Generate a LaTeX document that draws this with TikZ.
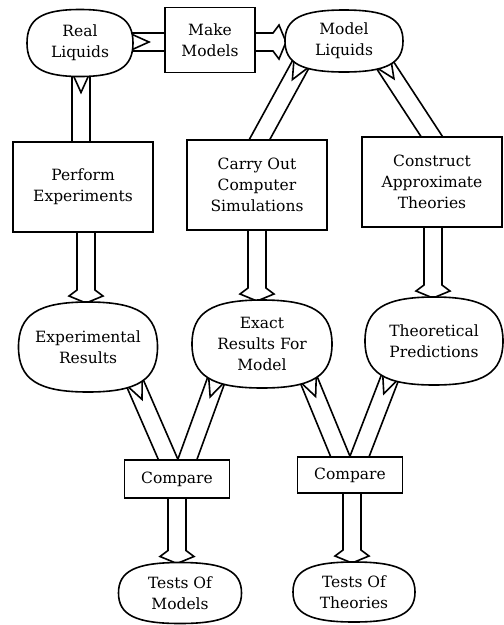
\documentclass[tikz,border=0pt]{standalone}
\usepackage{fontspec}
\setmainfont{DejaVu Serif}
\usetikzlibrary{calc}
\pgfdeclarelayer{bg}
\pgfdeclarelayer{mid}
\pgfsetlayers{bg,mid,main}
\newcommand\blockarrow[4]{%
  \coordinate (bA) at #1;
  \coordinate (bB) at #2;
  \coordinate (a1) at ($(bA)!9pt!90:(bB)$);
  \coordinate (a2) at ($(bA)!9pt!-90:(bB)$);
  \ifnum#4=1
    \coordinate (hs) at ($(bB)!13pt!(bA)$);
    \coordinate (hb) at ($(bB)!7pt!(bA)$);
    \coordinate (e1) at ($(hs)!9pt!-90:(bA)$);
    \coordinate (e2) at ($(hs)!9pt!90:(bA)$);
    \coordinate (h1) at ($(hb)!17pt!-90:(bA)$);
    \coordinate (h2) at ($(hb)!17pt!90:(bA)$);
    \draw[barrow] (a1) -- (e1) -- (h1) -- (bB) -- (h2) -- (e2) -- (a2);
  \else
    \coordinate (e1) at ($(bB)!9pt!-90:(bA)$);
    \coordinate (e2) at ($(bB)!9pt!90:(bA)$);
    \draw[barrow] (a1) -- (e1);
    \draw[barrow] (a2) -- (e2);
  \fi
  \ifnum#3=1
    \coordinate (nn) at ($(bA)!20pt!(bB)$);
    \draw[barrow] (a1) -- (nn) -- (a2);
  \fi
}
\newcommand\squircle[1]{%
  \filldraw[sq] (#1.north)
    .. controls ($(#1.north)!0.72!(#1.north east)$) and ($(#1.east)!0.72!(#1.north east)$) .. (#1.east)
    .. controls ($(#1.east)!0.72!(#1.south east)$) and ($(#1.south)!0.72!(#1.south east)$) .. (#1.south)
    .. controls ($(#1.south)!0.72!(#1.south west)$) and ($(#1.west)!0.72!(#1.south west)$) .. (#1.west)
    .. controls ($(#1.west)!0.72!(#1.north west)$) and ($(#1.north)!0.72!(#1.north west)$) .. (#1.north)
    -- cycle;}
\begin{document}
\begin{tikzpicture}[x=1pt,y=-1pt,
  txt/.style={font=\fontsize{15.5}{21}\selectfont, align=center, inner sep=0pt, outer sep=0pt},
  oval/.style={txt},
  boxn/.style={txt, draw, fill=white, line width=1.6pt},
  sq/.style={draw, fill=white, line width=1.6pt},
  barrow/.style={line width=1.6pt, line join=miter}]
\useasboundingbox (0,0) rectangle (504,625);

% ovals
\node[oval, minimum width=106pt, minimum height=67pt] (rl) at (80,43) {Real\\Liquids};
\node[oval, minimum width=118pt, minimum height=62pt] (ml) at (344,41) {Model\\Liquids};
\node[oval, minimum width=139pt, minimum height=90pt] (er) at (88,347) {Experimental\\Results};
\node[oval, minimum width=140pt, minimum height=88pt] (ex) at (262,344) {Exact\\Results For\\Model};
\node[oval, minimum width=138pt, minimum height=88pt] (tp) at (434,341) {Theoretical\\Predictions};
\node[oval, minimum width=123pt, minimum height=61pt] (tm) at (180,593) {Tests Of\\Models};
\node[oval, minimum width=122pt, minimum height=60pt] (tt) at (354,592) {Tests Of\\Theories};

% boxes
\node[boxn, minimum width=90pt, minimum height=65pt] (mm) at (210,40) {Make\\Models};
\node[boxn, minimum width=140pt, minimum height=90pt] (pe) at (83,187) {Perform\\Experiments};
\node[boxn, minimum width=140pt, minimum height=90pt] (cs) at (257,185) {Carry Out\\Computer\\Simulations};
\node[boxn, minimum width=140pt, minimum height=90pt] (ca) at (432,182) {Construct\\Approximate\\Theories};
\node[boxn, minimum width=105pt, minimum height=38pt] (c1) at (177,479) {Compare};
\node[boxn, minimum width=105pt, minimum height=36pt] (c2) at (350,475) {Compare};

\begin{pgfonlayer}{mid}
\squircle{rl}
\squircle{ml}
\squircle{er}
\squircle{ex}
\squircle{tp}
\squircle{tm}
\squircle{tt}
\end{pgfonlayer}

\begin{pgfonlayer}{bg}
\blockarrow{($(rl.east)+(-4,-1)$)}{($(mm.west)+(6,2)$)}{1}{0}
\blockarrow{($(mm.east)+(-6,2)$)}{($(ml.west)+(1,1)$)}{0}{1}
\blockarrow{($(rl.south)+(1,-4)$)}{($(pe.north)+(-2,6)$)}{1}{0}
\blockarrow{($(pe.south)+(3,-6)$)}{($(er.north)+(-2,1)$)}{0}{1}
\blockarrow{($(ml)+(-42,21)$)}{($(cs.north)+(-1,6)$)}{1}{0}
\blockarrow{($(cs.south)+(0,-6)$)}{($(ex.north)+(-5,1)$)}{0}{1}
\blockarrow{($(ml)+(39,21)$)}{($(ca.north)+(4,6)$)}{1}{0}
\blockarrow{($(ca.south)+(1,-6)$)}{($(tp.north)+(-1,1)$)}{0}{1}
\blockarrow{($(er)+(46,34)$)}{($(c1.north)+(-6,6)$)}{1}{0}
\blockarrow{($(ex)+(-45,34)$)}{($(c1.north)+(8,6)$)}{1}{0}
\blockarrow{($(c1.south)+(0,-6)$)}{($(tm.north)+(-3,1)$)}{0}{1}
\blockarrow{($(ex)+(46,34)$)}{($(c2.north)+(-7,6)$)}{1}{0}
\blockarrow{($(tp)+(-43,34)$)}{($(c2.north)+(7,6)$)}{1}{0}
\blockarrow{($(c2.south)+(2,-6)$)}{($(tt.north)+(-2,1)$)}{0}{1}
\end{pgfonlayer}
\end{tikzpicture}
\end{document}
